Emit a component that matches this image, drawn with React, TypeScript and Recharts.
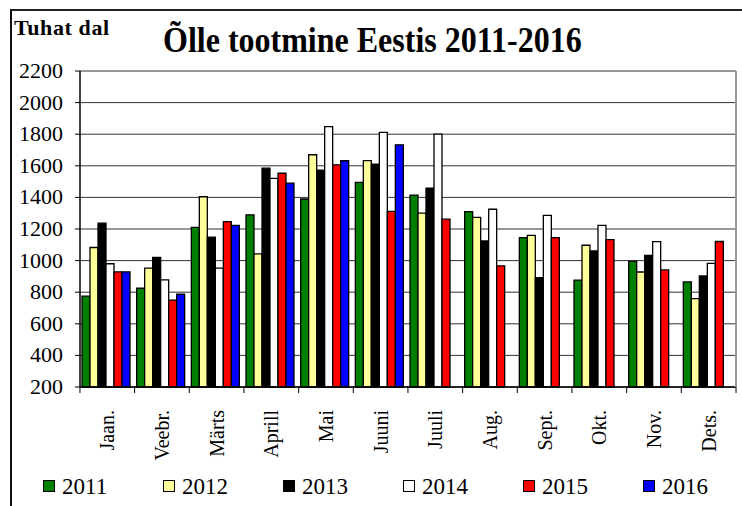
import { BarChart, Bar, XAxis, YAxis, CartesianGrid } from 'recharts';

// Õlle tootmine kuude kaupa, tuhat dal
const months = ['Jaan.', 'Veebr.', 'Märts', 'Aprill', 'Mai', 'Juuni', 'Juuli', 'Aug.', 'Sept.', 'Okt.', 'Nov.', 'Dets.'];
const y2011 = [775, 825, 1210, 1290, 1390, 1495, 1415, 1310, 1145, 877, 995, 865];
const y2012 = [1083, 953, 1404, 1042, 1670, 1633, 1300, 1274, 1160, 1097, 928, 759];
const y2013 = [1237, 1020, 1148, 1585, 1573, 1611, 1458, 1124, 892, 1061, 1033, 903];
const y2014 = [980, 878, 952, 1521, 1848, 1812, 1801, 1325, 1286, 1223, 1120, 983];
const y2015 = [929, 750, 1247, 1553, 1606, 1311, 1262, 967, 1146, 1133, 941, 1121];
const y2016 = [929, 787, 1223, 1490, 1632, 1733, null, null, null, null, null, null];
const yTicks = [200, 400, 600, 800, 1000, 1200, 1400, 1600, 1800, 2000, 2200];

const series = [
    { key: '2011', values: y2011, color: '#008000' },
    { key: '2012', values: y2012, color: '#FFFF99' },
    { key: '2013', values: y2013, color: '#000000' },
    { key: '2014', values: y2014, color: '#FFFFFF' },
    { key: '2015', values: y2015, color: '#FF0000' },
    { key: '2016', values: y2016, color: '#0000FF' }
];

const data = months.map((m, i) => {
    const row: Record<string, string | number | null> = { month: m };
    series.forEach(s => { row[s.key] = s.values[i]; });
    return row;
});

const W = 742;
const H = 506;
const margin = { top: 71, right: 5, bottom: 39, left: 0 };
const yAxisWidth = 80;
const band = (W - margin.left - margin.right - yAxisWidth) / months.length;
const font = '"Liberation Serif", "Times New Roman", serif';

const MonthTick = ({ x, y, payload, index }: any) => {
    const left = x - band / 2;
    return (
        <g>
            <line x1={left} y1={y} x2={left} y2={y + 6} stroke="#000" strokeWidth={1} />
            {index === months.length - 1 && (
                <line x1={x + band / 2} y1={y} x2={x + band / 2} y2={y + 6} stroke="#000" strokeWidth={1} />
            )}
            <text
                transform={`translate(${x + 7},${y + 23}) rotate(-90)`}
                textAnchor="end"
                fontFamily={font}
                fontSize={20}
                fill="#000"
            >
                {payload.value}
            </text>
        </g>
    );
};

const ValueTick = ({ x, y, payload }: any) => (
    <text x={x} y={y} dy={7} textAnchor="end" fontFamily={font} fontSize={22} fill="#000">
        {payload.value}
    </text>
);

export default function App() {
    return (
        <div style={{ position: 'fixed', left: 0, top: 0, width: W, height: H, background: '#fff', overflow: 'hidden', fontFamily: font }}>
            <div style={{ position: 'absolute', left: 10, top: 9, width: W, height: H, borderLeft: '2px solid #111', borderTop: '2px solid #222' }} />
            <div style={{ position: 'absolute', left: 14, top: 17, fontWeight: 'bold', fontSize: 22, lineHeight: 1, letterSpacing: 0.6, whiteSpace: 'nowrap' }}>
                Tuhat dal
            </div>
            <div style={{ position: 'absolute', left: 163, top: 25, fontWeight: 'bold', fontSize: 32, lineHeight: 1, whiteSpace: 'nowrap', transform: 'scaleY(1.1)', transformOrigin: 'left bottom' }}>
                Õlle tootmine Eestis 2011-2016
            </div>
            <div style={{ position: 'absolute', left: 0, top: 0 }}>
                <BarChart width={W} height={H} data={data} margin={margin} barCategoryGap={2} barGap={0}>
                    <CartesianGrid vertical={false} stroke="#333" strokeWidth={1} />
                    <XAxis
                        dataKey="month"
                        height={80}
                        axisLine={{ stroke: '#000', strokeWidth: 1.5 }}
                        tickLine={false}
                        tickSize={0}
                        tickMargin={0}
                        interval={0}
                        tick={<MonthTick />}
                    />
                    <YAxis
                        width={yAxisWidth}
                        domain={[200, 2200]}
                        ticks={yTicks}
                        interval={0}
                        axisLine={{ stroke: '#000', strokeWidth: 1.5 }}
                        tickLine={{ stroke: '#000' }}
                        tickSize={5}
                        tickMargin={12}
                        tick={<ValueTick />}
                    />
                    <YAxis
                        yAxisId="frame"
                        orientation="right"
                        width={1}
                        domain={[200, 2200]}
                        tick={false}
                        tickLine={false}
                        axisLine={{ stroke: '#999', strokeWidth: 2 }}
                    />
                    {series.map(s => (
                        <Bar
                            key={s.key}
                            dataKey={s.key}
                            fill={s.color}
                            stroke="#000"
                            strokeWidth={1.3}
                            isAnimationActive={false}
                        />
                    ))}
                </BarChart>
            </div>
            <div style={{ position: 'absolute', left: 0, top: 472, width: W, height: 28 }}>
                {series.map((s, i) => (
                    <div key={s.key} style={{ position: 'absolute', left: 43 + i * 120, top: 0, display: 'flex', alignItems: 'center', height: 28 }}>
                        <span style={{ display: 'inline-block', width: 10, height: 10, background: s.color, border: '1.5px solid #000' }} />
                        <span style={{ marginLeft: 7, fontSize: 23, lineHeight: 1 }}>{s.key}</span>
                    </div>
                ))}
            </div>
        </div>
    );
}
